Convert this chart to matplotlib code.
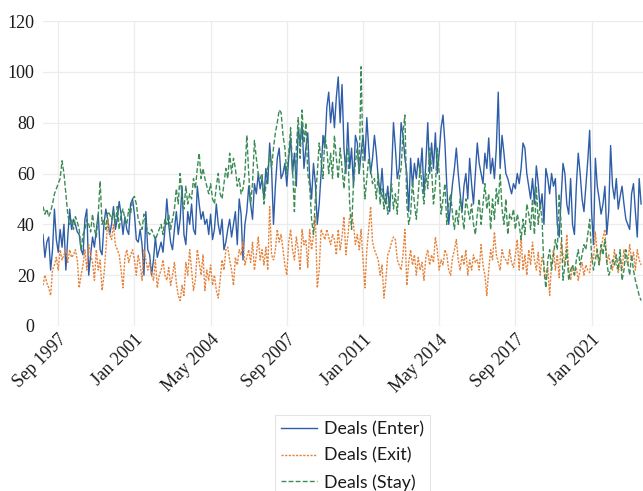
import matplotlib
matplotlib.use("Agg")
import matplotlib.pyplot as plt
import pandas as pd

# Monthly deal counts, Jan 1997 - Mar 2023
months = pd.period_range("1997-01", "2023-03", freq="M")

deals_enter = [
    36, 27, 33, 35, 22, 30, 46, 34, 29, 38, 31, 40,   # 1997
    22, 35, 46, 38, 42, 40, 37, 36, 30, 28, 42, 46,   # 1998
    20, 28, 35, 31, 38, 44, 30, 28, 40, 46, 42, 36,   # 1999
    40, 47, 38, 42, 49, 44, 36, 43, 38, 36, 48, 50,   # 2000
    44, 34, 33, 38, 32, 20, 45, 30, 28, 20, 26, 35,   # 2001
    27, 30, 33, 29, 38, 50, 40, 33, 30, 38, 45, 36,   # 2002
    42, 55, 36, 32, 45, 40, 48, 38, 36, 55, 48, 42,   # 2003
    45, 40, 42, 36, 44, 34, 38, 48, 40, 36, 42, 30,   # 2004
    33, 38, 42, 35, 40, 45, 32, 50, 44, 26, 40, 45,   # 2005
    55, 48, 42, 56, 52, 60, 54, 58, 50, 62, 56, 72,   # 2006
    62, 40, 55, 66, 70, 58, 60, 64, 55, 66, 74, 60,   # 2007
    68, 55, 78, 72, 80, 62, 70, 76, 58, 50, 64, 56,   # 2008
    40, 48, 60, 75, 70, 86, 92, 80, 88, 78, 90, 98,   # 2009
    80, 95, 70, 60, 80, 62, 70, 55, 75, 72, 60, 68,   # 2010
    75, 65, 82, 70, 60, 66, 75, 68, 58, 52, 62, 50,   # 2011
    48, 55, 45, 60, 80, 70, 58, 62, 80, 75, 66, 60,   # 2012
    45, 66, 55, 64, 58, 66, 60, 70, 52, 64, 80, 60,   # 2013
    72, 62, 76, 60, 68, 78, 83, 72, 55, 40, 48, 56,   # 2014
    62, 70, 60, 52, 45, 55, 60, 50, 66, 56, 48, 60,   # 2015
    72, 64, 60, 56, 68, 62, 74, 60, 66, 58, 70, 92,   # 2016
    62, 75, 68, 60, 58, 55, 52, 56, 54, 60, 56, 62,   # 2017
    72, 70, 60, 55, 50, 58, 48, 63, 56, 46, 52, 40,   # 2018
    62, 58, 52, 60, 55, 58, 40, 35, 50, 64, 60, 48,   # 2019
    44, 58, 40, 36, 55, 68, 60, 50, 45, 55, 65, 77,   # 2020
    45, 32, 66, 55, 50, 44, 48, 55, 36, 45, 71, 55,   # 2021
    50, 58, 46, 51, 55, 48, 42, 40, 38, 52, 56, 45,   # 2022
    35, 58, 48,                                       # 2023
]

deals_exit = [
    16, 20, 17, 15, 12, 22, 24, 27, 22, 30, 26, 28,   # 1997
    30, 25, 30, 27, 28, 30, 26, 15, 20, 24, 30, 22,   # 1998
    32, 28, 25, 18, 30, 22, 26, 14, 20, 30, 42, 36,   # 1999
    34, 40, 32, 30, 28, 22, 15, 27, 30, 25, 28, 30,   # 2000
    26, 20, 28, 24, 18, 30, 26, 22, 25, 20, 18, 26,   # 2001
    15, 20, 22, 26, 20, 18, 23, 16, 20, 25, 17, 12,   # 2002
    10, 16, 12, 25, 20, 30, 22, 14, 18, 30, 25, 20,   # 2003
    28, 14, 22, 18, 24, 16, 20, 14, 11, 18, 26, 22,   # 2004
    30, 31, 26, 22, 16, 27, 24, 30, 28, 33, 24, 27,   # 2005
    30, 25, 33, 22, 28, 35, 26, 30, 24, 31, 22, 47,   # 2006
    28, 26, 30, 38, 33, 36, 30, 24, 20, 33, 38, 30,   # 2007
    26, 35, 30, 22, 38, 32, 34, 23, 38, 30, 36, 43,   # 2008
    15, 22, 38, 36, 34, 38, 35, 32, 36, 34, 28, 38,   # 2009
    30, 35, 43, 28, 35, 43, 44, 40, 32, 36, 30, 38,   # 2010
    26, 15, 30, 38, 47, 33, 30, 28, 26, 20, 24, 11,   # 2011
    18, 28, 30, 33, 35, 34, 26, 24, 22, 28, 38, 16,   # 2012
    25, 30, 24, 28, 20, 27, 22, 25, 18, 27, 30, 24,   # 2013
    28, 25, 35, 30, 22, 26, 24, 30, 28, 22, 20, 27,   # 2014
    30, 34, 26, 22, 28, 24, 30, 20, 26, 22, 28, 25,   # 2015
    26, 22, 32, 24, 20, 12, 22, 30, 26, 37, 28, 25,   # 2016
    22, 30, 27, 26, 24, 30, 25, 23, 28, 34, 22, 35,   # 2017
    22, 28, 20, 30, 24, 33, 26, 22, 29, 20, 27, 24,   # 2018
    18, 23, 12, 25, 30, 22, 28, 19, 33, 28, 24, 36,   # 2019
    22, 18, 24, 20, 23, 18, 22, 25, 20, 24, 22, 21,   # 2020
    28, 26, 37, 28, 24, 30, 35, 38, 25, 28, 24, 22,   # 2021
    30, 24, 21, 27, 22, 30, 26, 24, 32, 26, 29, 22,   # 2022
    30, 26, 24,                                       # 2023
]

deals_stay = [
    47, 44, 46, 43, 45, 48, 52, 54, 56, 58, 65, 60,   # 1997
    52, 44, 40, 42, 38, 43, 41, 38, 30, 36, 38, 42,   # 1998
    40, 37, 44, 38, 35, 44, 57, 40, 42, 38, 45, 44,   # 1999
    42, 45, 40, 47, 38, 44, 46, 42, 40, 46, 44, 50,   # 2000
    51, 48, 42, 40, 38, 44, 40, 37, 36, 38, 36, 34,   # 2001
    36, 38, 40, 36, 42, 40, 44, 38, 42, 46, 54, 48,   # 2002
    60, 50, 46, 55, 48, 52, 50, 58, 54, 62, 68, 58,   # 2003
    62, 58, 55, 52, 56, 50, 48, 55, 60, 52, 50, 56,   # 2004
    62, 58, 68, 60, 66, 62, 55, 58, 52, 54, 60, 75,   # 2005
    60, 48, 56, 73, 66, 60, 58, 60, 48, 55, 62, 68,   # 2006
    62, 70, 76, 80, 85, 84, 75, 70, 60, 68, 78, 62,   # 2007
    45, 70, 82, 66, 85, 72, 80, 60, 55, 42, 36, 50,   # 2008
    60, 72, 65, 58, 75, 70, 60, 68, 58, 75, 66, 58,   # 2009
    70, 62, 54, 66, 70, 48, 38, 56, 64, 70, 60, 102,  # 2010
    65, 50, 58, 66, 62, 56, 58, 50, 60, 48, 54, 46,   # 2011
    52, 44, 50, 56, 46, 52, 44, 58, 62, 76, 83, 48,   # 2012
    40, 44, 57, 48, 42, 52, 63, 55, 48, 60, 54, 70,   # 2013
    62, 48, 55, 70, 60, 44, 50, 56, 40, 48, 52, 44,   # 2014
    38, 46, 40, 50, 44, 38, 50, 46, 42, 48, 40, 36,   # 2015
    44, 50, 40, 48, 56, 46, 52, 38, 50, 42, 54, 48,   # 2016
    60, 46, 40, 50, 36, 44, 42, 46, 38, 44, 40, 34,   # 2017
    42, 36, 48, 44, 38, 50, 36, 55, 40, 48, 42, 22,   # 2018
    15, 26, 30, 22, 28, 34, 30, 52, 40, 18, 24, 30,   # 2019
    18, 22, 24, 20, 26, 30, 24, 28, 32, 30, 36, 42,   # 2020
    28, 22, 26, 30, 24, 32, 28, 34, 25, 20, 22, 26,   # 2021
    24, 28, 22, 30, 18, 22, 30, 25, 20, 28, 22, 18,   # 2022
    15, 12, 10,                                       # 2023
]

series_names = ["Deals (Enter)", "Deals (Exit)", "Deals (Stay)"]
y_ticks = [0, 20, 40, 60, 80, 100, 120]
tick_step = 40          # one x label every 40 months
first_tick = 8          # Sep 1997

serif = ["Liberation Serif", "DejaVu Serif"]

fig = plt.figure(figsize=(6.43, 4.91), dpi=100)
ax = fig.add_axes([43 / 643, 165 / 491, 600 / 643, 305 / 491])

x = list(range(len(months)))
ax.plot(x, deals_enter, color="#2f5ea8", lw=1.0, ls="-", label=series_names[0])
ax.plot(x, deals_exit, color="#e5843c", lw=1.0, ls=(0, (1.6, 1.0)), label=series_names[1])
ax.plot(x, deals_stay, color="#3b8c55", lw=1.0, ls=(0, (3.5, 1.6)), label=series_names[2])

ax.set_xlim(0, 315)
ax.set_ylim(0, 120)

tick_pos = list(range(first_tick, len(months), tick_step))
ax.set_xticks(tick_pos)
ax.set_xticklabels([months[i].strftime("%b %Y") for i in tick_pos],
                   rotation=45, ha="right", rotation_mode="anchor",
                   family=serif, fontsize=13)
ax.set_yticks(y_ticks)
ax.set_yticklabels([str(v) for v in y_ticks], family=serif, fontsize=13)
ax.tick_params(axis="both", length=0, colors="#1a1a1a")
ax.tick_params(axis="y", pad=6)
ax.tick_params(axis="x", pad=4)

ax.grid(True, color="#ececec", lw=0.9)
ax.set_axisbelow(True)
for sp in ax.spines.values():
    sp.set_visible(False)

leg = fig.legend(loc="upper left", bbox_to_anchor=(275 / 643, 1 - 415 / 491),
                 frameon=True, fancybox=False, edgecolor="#dddddd",
                 prop={"family": ["Lato", "DejaVu Sans"], "size": 12.8},
                 handlelength=2.0, handletextpad=0.4, labelspacing=0.58,
                 borderpad=0.35, borderaxespad=0)
leg.get_frame().set_linewidth(0.8)
for t in leg.get_texts():
    t.set_color("#1a1a1a")

fig.savefig("out.png", dpi=100)
